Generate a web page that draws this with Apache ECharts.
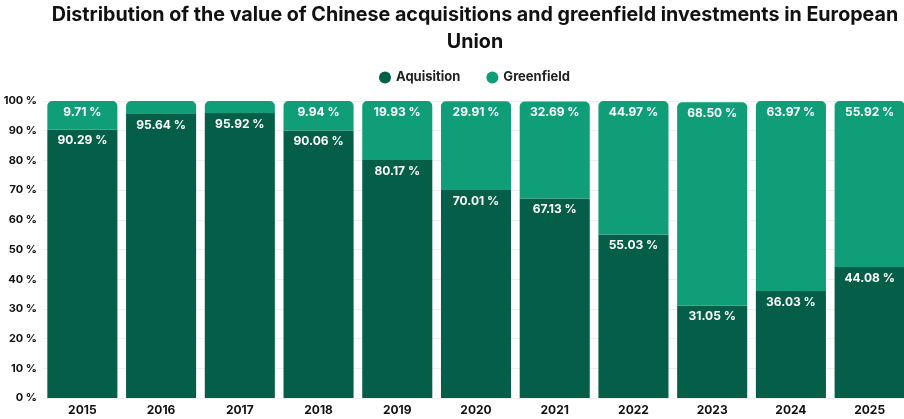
<!DOCTYPE html>
<html>
<head>
<meta charset="utf-8">
<script src="https://cdn.jsdelivr.net/npm/echarts@6/dist/echarts.min.js"></script>
<style>
  html, body { margin: 0; padding: 0; background: #ffffff; }
  #chart { width: 904px; height: 419px; }
</style>
</head>
<body>
<div id="chart"></div>
<script>
// Share of Chinese investment value in the EU, by entry mode (percent)
const years = ['2015', '2016', '2017', '2018', '2019', '2020', '2021', '2022', '2023', '2024', '2025'];
const acquisition = [90.29, 95.64, 95.92, 90.06, 80.17, 70.01, 67.13, 55.03, 31.05, 36.03, 44.08];
const greenfield = [9.71, 4.36, 4.08, 9.94, 19.93, 29.91, 32.69, 44.97, 68.50, 63.97, 55.92];
const yTicks = [0, 10, 20, 30, 40, 50, 60, 70, 80, 90, 100];

const FONT = 'Inter, "Noto Sans", sans-serif';

// Segments too thin to hold text stay unlabelled
const pctLabel = p => (p.value < 5 ? '' : p.value.toFixed(2) + ' %');

const chart = echarts.init(document.getElementById('chart'));
chart.setOption({
  animation: false,
  title: {
    text: 'Distribution of the value of Chinese acquisitions and greenfield investments in European\nUnion',
    left: 470,
    textAlign: 'center',
    top: 0,
    padding: [2, 5, 5, 5],
    textStyle: { fontFamily: FONT, fontSize: 19.7, fontWeight: 'bold', color: '#111111', lineHeight: 27 }
  },
  legend: {
    top: 66,
    left: 374,
    icon: 'circle',
    itemWidth: 12,
    itemHeight: 12,
    itemGap: 26,
    textStyle: { fontFamily: FONT, fontSize: 13, fontWeight: 'bold', color: '#222222' },
    data: ['Aquisition', 'Greenfield']
  },
  grid: { left: 43, width: 866, top: 101, bottom: 21, outerBoundsMode: 'none' },
  xAxis: {
    type: 'category',
    data: years,
    axisLine: { show: false },
    axisTick: { show: false },
    axisLabel: { fontFamily: FONT, fontSize: 12, fontWeight: 'bold', color: '#111111', margin: 6 }
  },
  yAxis: {
    type: 'value',
    min: yTicks[0],
    max: yTicks[yTicks.length - 1],
    interval: 10,
    axisLine: { show: false },
    axisTick: { show: false },
    axisLabel: { fontFamily: FONT, fontSize: 11, fontWeight: 'bold', color: '#111111', margin: 6, formatter: v => v + ' %' },
    splitLine: { lineStyle: { color: '#eeeeee' } }
  },
  series: [
    {
      name: 'Aquisition',
      type: 'bar',
      stack: 'share',
      barCategoryGap: '11%',
      data: acquisition,
      itemStyle: { color: '#055f48' },
      label: {
        show: true, position: 'insideTop', distance: 5, formatter: pctLabel,
        fontFamily: FONT, fontSize: 12, fontWeight: 'bold', color: '#ffffff'
      }
    },
    {
      name: 'Greenfield',
      type: 'bar',
      stack: 'share',
      data: greenfield,
      itemStyle: { color: '#0f9e78', borderRadius: [5, 5, 0, 0] },
      label: {
        show: true, position: 'insideTop', distance: 5, formatter: pctLabel,
        fontFamily: FONT, fontSize: 12, fontWeight: 'bold', color: '#ffffff'
      }
    }
  ]
});
</script>
</body>
</html>
